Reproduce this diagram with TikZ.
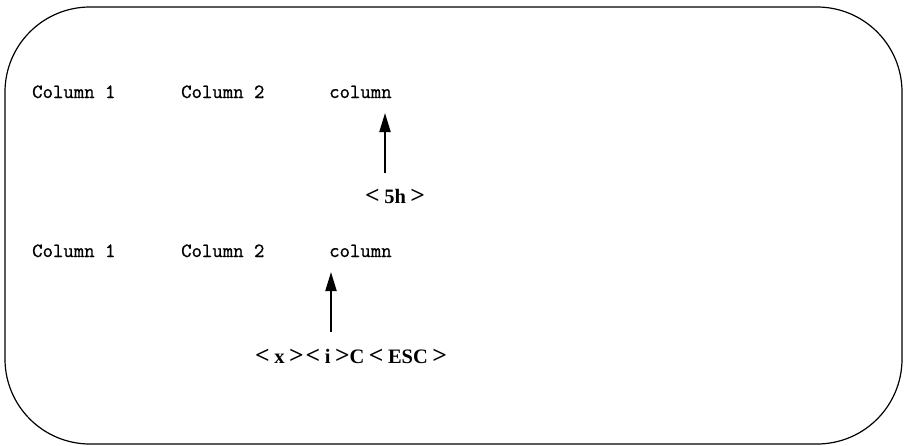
\documentclass[tikz,border=0pt]{standalone}
\usepackage{fontspec}
\usepackage{graphicx}
\setmainfont{Liberation Serif}
\setmonofont[FakeBold=0.9]{Latin Modern Mono}
\usetikzlibrary{arrows.meta}
\newcommand\gp{\kern0.22em}
\newcommand\lsym{\raisebox{-0.02em}{\scalebox{1.25}[1.2]{<}}}
\newcommand\gsym{\raisebox{-0.02em}{\scalebox{1.25}[1.2]{>}}}
\begin{document}
\begin{tikzpicture}[x=1pt,y=-1pt,
  coltext/.style={inner sep=0pt,anchor=base west,font=\ttfamily\fontsize{20.2}{22}\selectfont},
  keytext/.style={inner sep=0pt,anchor=base west,font=\bfseries\fontsize{20.5}{24}\selectfont},
  uparrow/.style={line width=2pt,-{Triangle[length=19pt,width=11pt]}},
  frame/.style={line width=1.2pt,rounded corners=85pt}]
\useasboundingbox (0,0) rectangle (904,445);
\draw[frame] (5,7) rectangle (902,444);
% row 1
\node[coltext] (r1a) at (32,98) {Column 1};
\node[coltext] (r1b) at (181,98) {Column 2};
\node[coltext] (r1c) at (329,98) {column};
\coordinate (a1s) at (385,173);
\coordinate (a1e) at (385,113);
\draw[uparrow] (a1s) -- (a1e);
\node[keytext] (k1) at (365,203) {\lsym\gp5h\gp\gsym};
% row 2
\node[coltext] (r2a) at (32,257) {Column 1};
\node[coltext] (r2b) at (181,257) {Column 2};
\node[coltext] (r2c) at (329,257) {column};
\coordinate (a2s) at (331,332);
\coordinate (a2e) at (331,272);
\draw[uparrow] (a2s) -- (a2e);
\node[keytext] (k2) at (255,363) {\lsym\gp x\gp\gsym\kern0.1em\lsym\gp i\gp\gsym C\gp\lsym\gp ESC\gp\gsym};
\end{tikzpicture}
\end{document}
